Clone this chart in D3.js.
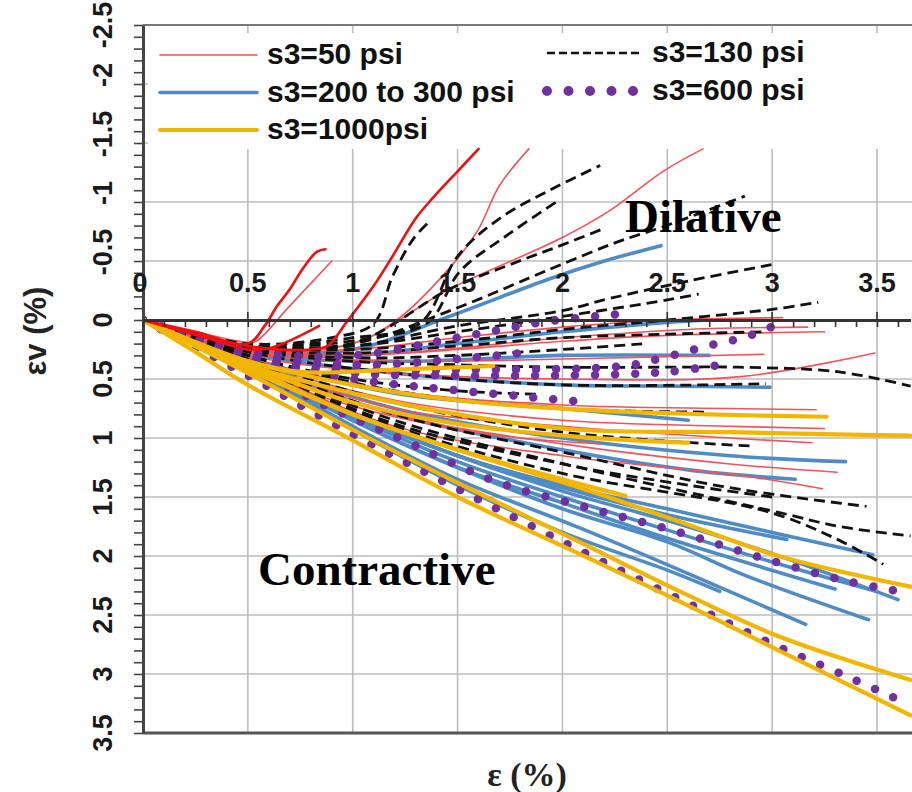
<!DOCTYPE html>
<html>
<head>
<meta charset="utf-8">
<script src="https://d3js.org/d3.v7.min.js"></script>
<style>
  body { margin: 0; background: #fff; }
  svg { display: block; }
</style>
</head>
<body>
<div id="chart"></div>
<script>
// axial strain (%) vs volumetric strain (%), one array of curves per confining stress
var psi50 = [
  [[0,0],[0.25,0.1],[0.5,0.19],[0.54,0.18],[0.7,-0.12],[0.9,-0.5]],
  [[0,0],[0.5,0.24],[1.0,0.2],[1.21,0.0],[1.5,-0.52],[1.6,-0.77],[1.7,-1.14],[1.84,-1.45]],
  [[0,0],[0.5,0.25],[1.0,0.2],[1.46,-0.26],[1.99,-0.69],[2.22,-0.92],[2.48,-1.26],[2.67,-1.45]],
  [[0,0],[0.5,0.25],[1.0,0.25],[1.5,0.15],[2.0,0.06],[2.5,0.0],[3.05,-0.02]],
  [[0,0],[0.5,0.26],[1.2,0.28],[2.0,0.15],[2.6,0.08],[3.17,0.06]],
  [[0,0],[0.5,0.27],[1.0,0.3],[1.5,0.25],[2.0,0.18],[2.5,0.13],[3.25,0.1]],
  [[0,0],[0.5,0.28],[1.2,0.35],[2.0,0.33],[2.96,0.29]],
  [[0,0],[0.5,0.3],[1.2,0.45],[2.0,0.5],[2.85,0.48],[3.49,0.28]],
  [[0,0],[0.5,0.32],[1.2,0.6],[2.0,0.72],[2.8,0.75],[3.21,0.76]],
  [[0,0],[0.5,0.34],[1.2,0.68],[2.0,0.85],[2.8,0.9],[3.25,0.92]],
  [[0,0],[0.5,0.35],[1.2,0.75],[2.0,0.9],[2.8,1.0],[3.19,1.04]],
  [[0,0],[0.5,0.36],[1.2,0.8],[2.0,1.05],[2.8,1.22],[3.31,1.29]],
  [[0,0],[0.5,0.38],[1.2,0.9],[2.0,1.15],[2.5,1.25],[2.9,1.33],[3.24,1.43]],
  [[0,0],[0.25,0.22],[0.5,0.42],[0.8,0.62],[1.2,0.82],[1.7,0.98],[2.18,1.05]]
];

// the three brighter 50 psi tests
var psi50b = [
  [[0,0],[0.25,0.1],[0.5,0.2],[0.58,0.05],[0.64,-0.12],[0.7,-0.26],[0.76,-0.43],[0.83,-0.58],[0.87,-0.6]],
  [[0,0],[0.3,0.15],[0.5,0.25],[0.62,0.23],[0.84,0.05]],
  [[0,0],[0.5,0.22],[0.8,0.25],[0.88,0.22],[0.97,0.02],[1.1,-0.29],[1.19,-0.54],[1.3,-0.86],[1.38,-1.03],[1.5,-1.26],[1.6,-1.45]]
];

var psi130 = [
  [[0,0],[0.5,0.2],[0.9,0.15],[1.1,0.03],[1.19,-0.37],[1.29,-0.69],[1.37,-0.84]],
  [[0,0],[0.5,0.22],[1.0,0.15],[1.32,0.03],[1.5,-0.54],[1.7,-0.86],[1.94,-1.1],[2.18,-1.31]],
  [[0,0],[0.5,0.22],[1.1,0.15],[1.36,0.02],[1.51,-0.41],[1.73,-0.71],[1.97,-1.0]],
  [[0,0],[0.5,0.22],[1.0,0.2],[1.46,-0.26],[1.78,-0.49],[1.99,-0.63],[2.19,-0.77]],
  [[0,0],[0.5,0.22],[1.0,0.2],[1.48,-0.09],[1.94,-0.43],[2.26,-0.66],[2.48,-0.79],[2.87,-1.05]],
  [[0,0],[0.5,0.22],[1.0,0.22],[1.5,0.05],[2.0,-0.08],[2.22,-0.18],[2.6,-0.33],[3.0,-0.47]],
  [[0,0],[0.5,0.22],[1.0,0.22],[1.5,0.1],[2.0,-0.03],[2.5,-0.17],[2.65,-0.22]],
  [[0,0],[0.5,0.22],[1.0,0.25],[1.5,0.18],[2.0,0.08],[2.5,0.0],[3.0,-0.09],[3.22,-0.15]],
  [[0,0],[0.5,0.24],[1.0,0.28],[1.5,0.22],[2.0,0.15],[2.5,0.12],[2.97,0.1]],
  [[0,0],[0.5,0.25],[1.0,0.32],[1.5,0.3],[2.0,0.25],[2.4,0.2]],
  [[0,0],[0.5,0.25],[1.0,0.35],[1.5,0.38],[2.0,0.4],[2.5,0.4],[2.84,0.4],[3.32,0.44],[3.66,0.56]],
  [[0,0],[0.5,0.27],[1.2,0.45],[2.0,0.55],[2.97,0.54]],
  [[0,0],[0.5,0.3],[1.0,0.5],[1.5,0.6],[1.9,0.63]],
  [[0,0],[0.5,0.3],[1.2,0.6],[2.0,0.75],[2.69,0.78]],
  [[0,0],[0.5,0.33],[1.2,0.7],[2.0,0.95],[2.92,1.07]],
  [[0,0],[0.5,0.35],[1.2,0.8],[2.08,1.15],[2.76,1.41],[3.45,1.58]],
  [[0,0],[0.5,0.36],[1.2,0.85],[2.08,1.25],[3.03,1.63],[3.32,1.75],[3.66,1.83]],
  [[0,0],[0.5,0.37],[1.2,0.9],[2.0,1.3],[2.97,1.62],[3.3,1.85],[3.53,2.07]],
  [[0,0],[0.5,0.37],[1.2,0.88],[2.0,1.22],[2.6,1.4],[3.0,1.5]]
];

var psi200to300 = [
  [[0,0],[0.5,0.25],[1.0,0.25],[1.46,-0.03],[1.94,-0.35],[2.2,-0.5],[2.47,-0.63]],
  [[0,0],[0.5,0.27],[1.0,0.3],[1.5,0.2],[2.0,0.1],[2.5,0.02],[2.7,0.0]],
  [[0,0],[0.5,0.28],[1.2,0.35],[2.0,0.3],[2.7,0.3]],
  [[0,0],[0.5,0.28],[1.2,0.45],[2.0,0.55],[2.5,0.56],[2.99,0.57]],
  [[0,0],[0.5,0.32],[1.2,0.62],[2.0,0.75],[2.6,0.85]],
  [[0,0],[0.5,0.35],[1.2,0.75],[2.0,1.0],[2.8,1.15],[3.35,1.2]],
  [[0,0],[0.5,0.36],[1.2,0.8],[2.0,1.1],[2.6,1.27],[3.11,1.35]],
  [[0,0],[0.5,0.37],[1.0,0.8],[1.5,1.15],[2.0,1.4],[2.5,1.6],[3.0,1.8],[3.48,1.99]],
  [[0,0],[0.5,0.37],[1.0,0.8],[1.5,1.15],[2.0,1.42],[2.5,1.65],[3.07,1.86]],
  [[0,0],[0.5,0.38],[1.0,0.8],[1.5,1.15],[2.0,1.45],[2.5,1.7],[3.0,1.98],[3.6,2.37]],
  [[0,0],[0.5,0.38],[1.0,0.82],[1.5,1.2],[2.0,1.5],[2.5,1.78],[3.0,2.05],[3.5,2.3]],
  [[0,0],[0.5,0.4],[1.0,0.85],[1.5,1.25],[2.0,1.55],[2.5,1.85],[3.3,2.28]],
  [[0,0],[0.5,0.38],[1.0,0.85],[1.5,1.25],[2.0,1.6],[2.5,1.88],[2.88,2.17],[3.46,2.54]],
  [[0,0],[0.5,0.4],[1.0,0.9],[1.5,1.35],[2.08,1.76],[2.6,2.15],[3.16,2.58]],
  [[0,0],[0.5,0.42],[1.0,0.93],[1.5,1.4],[2.0,1.8],[2.5,2.12],[2.75,2.3]]
];

var psi600 = [
  [[0,0],[0.5,0.26],[1.0,0.3],[1.5,0.15],[1.9,0.02],[2.27,-0.05]],
  [[0,0],[0.5,0.28],[1.0,0.38],[1.5,0.33],[1.8,0.28]],
  [[0,0],[0.5,0.3],[1.0,0.42],[1.46,0.42],[2.29,0.39],[2.5,0.31],[2.69,0.22],[2.88,0.14],[3.07,0.0]],
  [[0,0],[0.5,0.32],[1.0,0.45],[1.5,0.47],[2.0,0.47],[2.5,0.44],[2.75,0.38]],
  [[0,0],[0.5,0.32],[1.0,0.5],[1.4,0.58],[2.08,0.69]],
  [[0,0],[0.5,0.4],[0.9,0.75],[1.22,1.0],[1.46,1.2],[1.7,1.38],[2.14,1.6],[2.56,1.8],[2.94,2.01],[3.35,2.21],[3.64,2.31]],
  [[0,0],[0.5,0.47],[1.0,0.97],[1.5,1.43],[2.08,1.95],[2.62,2.42],[3.03,2.77],[3.37,3.03],[3.64,3.25]]
];

var psi1000 = [
  [[0,0],[0.25,0.2],[0.5,0.35],[0.75,0.44],[1.2,0.42],[1.67,0.39]],
  [[0,0],[0.5,0.35],[1.0,0.55],[1.5,0.68],[2.08,0.76],[2.7,0.8],[3.26,0.82]],
  [[0,0],[0.5,0.38],[1.0,0.62],[1.5,0.8],[2.08,0.93],[2.8,0.95],[3.3,0.97],[3.66,0.98]],
  [[0,0],[0.5,0.38],[1.0,0.7],[1.5,0.88],[2.08,0.99],[2.6,1.04]],
  [[0,0],[0.5,0.42],[1.0,0.8],[1.5,1.1],[2.0,1.35],[2.3,1.49]],
  [[0,0],[0.5,0.4],[1.0,0.8],[1.5,1.1],[2.08,1.42],[2.56,1.71],[3.03,2.0],[3.66,2.26]],
  [[0,0],[0.5,0.45],[1.0,0.93],[1.5,1.38],[2.08,1.88],[2.56,2.3],[3.03,2.68],[3.66,3.05]],
  [[0,0],[0.25,0.27],[0.5,0.55],[1.0,1.02],[1.5,1.5],[2.14,2.03],[2.6,2.42],[3.03,2.8],[3.66,3.35]]
];

var xTicks = [0, 0.5, 1, 1.5, 2, 2.5, 3, 3.5];
var yTicks = [-2.5, -2, -1.5, -1, -0.5, 0, 0.5, 1, 1.5, 2, 2.5, 3, 3.5];

var legendLeft = [
  {label: "s3=50 psi", key: "p50"},
  {label: "s3=200 to 300 psi", key: "p250"},
  {label: "s3=1000psi", key: "p1000"}
];
var legendRight = [
  {label: "s3=130 psi", key: "p130"},
  {label: "s3=600 psi", key: "p600"}
];

var styles = {
  p250:  {color: "#4f8cc6", width: 3.6, dash: null, cap: "round"},
  p50:   {color: "#f4525a", width: 1.6, dash: null, cap: "round"},
  p130:  {color: "#111", width: 2.8, dash: "11,6", cap: "butt"},
  p600:  {color: "#7030a0", width: 8.5, dash: "0,20", cap: "round"},
  p1000: {color: "#f2b600", width: 4.2, dash: null, cap: "round"},
  p50b:  {color: "#f01010", width: 2.6, dash: null, cap: "round"}
};

var groups = [
  {key: "p250", curves: psi200to300},
  {key: "p50", curves: psi50},
  {key: "p130", curves: psi130},
  {key: "p600", curves: psi600},
  {key: "p1000", curves: psi1000},
  {key: "p50b", curves: psi50b}
];

var width = 912, height = 792;

var x = d3.scaleLinear().domain([0, 3.5]).range([143, 877]);
var y = d3.scaleLinear().domain([-2.5, 3.5]).range([25, 733]);

var svg = d3.select("#chart").append("svg")
  .attr("width", width)
  .attr("height", height);

var sans = "'Liberation Sans', Arial, sans-serif";
var serif = "'Liberation Serif', 'Times New Roman', serif";

// grid
svg.append("g").attr("class", "grid-v")
  .selectAll("line")
  .data(xTicks.filter(function (d) { return d > 0; }))
  .enter().append("line")
  .attr("x1", function (d) { return x(d); })
  .attr("x2", function (d) { return x(d); })
  .attr("y1", y(-2.5))
  .attr("y2", y(3.5))
  .style("stroke", "#bdbdbd")
  .style("stroke-width", 1.6);

svg.append("g").attr("class", "grid-h")
  .selectAll("line")
  .data(yTicks.filter(function (d) { return d > -2.5 && d < 3.5 && d !== 0; }))
  .enter().append("line")
  .attr("x1", x(0))
  .attr("x2", width)
  .attr("y1", function (d) { return y(d); })
  .attr("y2", function (d) { return y(d); })
  .style("stroke", "#bdbdbd")
  .style("stroke-width", 1.6);

// top border
svg.append("line")
  .attr("x1", x(0)).attr("x2", width)
  .attr("y1", y(-2.5)).attr("y2", y(-2.5))
  .style("stroke", "#7a7a7a").style("stroke-width", 2);

// legend background hides the grid behind it
svg.append("rect")
  .attr("x", 148).attr("y", 33)
  .attr("width", width - 148).attr("height", 116)
  .style("fill", "#fff");

// curves
svg.append("clipPath").attr("id", "plotClip")
  .append("rect")
  .attr("x", x(0)).attr("y", y(-2.5))
  .attr("width", width - x(0)).attr("height", y(3.5) - y(-2.5));

var line = d3.line()
  .x(function (d) { return x(d[0]); })
  .y(function (d) { return y(d[1]); })
  .curve(d3.curveCatmullRom.alpha(0.5));

var plot = svg.append("g").attr("clip-path", "url(#plotClip)");

groups.forEach(function (g) {
  var s = styles[g.key];
  plot.append("g").attr("class", "series " + g.key)
    .selectAll("path")
    .data(g.curves)
    .enter().append("path")
    .attr("d", line)
    .style("fill", "none")
    .style("stroke", s.color)
    .style("stroke-width", s.width)
    .style("stroke-dasharray", s.dash)
    .style("stroke-linecap", s.cap)
    .style("stroke-linejoin", "round");
});

// bottom axis border
svg.append("line")
  .attr("x1", x(0)).attr("x2", width)
  .attr("y1", y(3.5)).attr("y2", y(3.5))
  .style("stroke", "#555").style("stroke-width", 3);

// y axis with minor ticks every 0.1
var yMinor = d3.range(-25, 36).map(function (v) { return v / 10; });
var yAxis = svg.append("g")
  .attr("transform", "translate(" + x(0) + ",0)")
  .call(d3.axisLeft(y).tickValues(yMinor).tickSize(9).tickSizeOuter(0).tickFormat(""));
yAxis.select(".domain").style("stroke", "#444").style("stroke-width", 3);
yAxis.selectAll(".tick line").style("stroke", "#444").style("stroke-width", 1.6);

// x axis crossing at εv = 0
var xMinor = d3.range(0, 37).map(function (v) { return v / 10; });
var xScaleWide = x.copy().domain([0, 3.66]).range([x(0), x(3.66)]);
var xAxis = svg.append("g")
  .attr("transform", "translate(0," + y(0) + ")")
  .call(d3.axisBottom(xScaleWide).tickValues(xMinor).tickSize(7).tickSizeOuter(0).tickFormat(""));
xAxis.select(".domain").style("stroke", "#333").style("stroke-width", 3);
xAxis.selectAll(".tick line").style("stroke", "#333").style("stroke-width", 1.6);

svg.append("g").selectAll("line")
  .data(xTicks.filter(function (d) { return d > 0; }))
  .enter().append("line")
  .attr("x1", function (d) { return x(d); })
  .attr("x2", function (d) { return x(d); })
  .attr("y1", y(0) - 8)
  .attr("y2", y(0))
  .style("stroke", "#333").style("stroke-width", 1.6);

// x tick labels sit above the zero line
svg.append("g").selectAll("text")
  .data(xTicks)
  .enter().append("text")
  .attr("x", function (d) { return x(d) - (d === 0 ? 3 : 0); })
  .attr("y", y(0) - 28)
  .attr("text-anchor", "middle")
  .style("font-family", sans)
  .style("font-weight", "bold")
  .style("font-size", "27px")
  .style("fill", "#1a1a1a")
  .text(function (d) { return d; });

// y tick labels, rotated (negative ones sit a little higher, as in the source)
svg.append("g").selectAll("text")
  .data(yTicks)
  .enter().append("text")
  .attr("transform", function (d) {
    var shift = d < 0 && d > -2.5 ? 9 : 0;
    return "translate(112," + (y(d) - shift) + ") rotate(-90)";
  })
  .attr("text-anchor", "middle")
  .style("font-family", sans)
  .style("font-weight", "bold")
  .style("font-size", "27px")
  .style("fill", "#1a1a1a")
  .text(function (d) { return d; });

// axis titles
svg.append("text")
  .attr("transform", "translate(46,331) rotate(-90)")
  .attr("text-anchor", "middle")
  .style("font-family", sans)
  .style("font-weight", "bold")
  .style("font-size", "31px")
  .style("fill", "#222")
  .text("\u03b5v (%)");

svg.append("text")
  .attr("x", 527)
  .attr("y", 786)
  .attr("text-anchor", "middle")
  .style("font-family", serif)
  .style("font-weight", "bold")
  .style("font-size", "34px")
  .style("fill", "#222")
  .text("\u03b5 (%)");

// region annotations
svg.append("text")
  .attr("x", 625).attr("y", 232)
  .style("font-family", serif).style("font-weight", "bold")
  .style("font-size", "47px").style("fill", "#000")
  .text("Dilative");

svg.append("text")
  .attr("x", 258).attr("y", 585)
  .style("font-family", serif).style("font-weight", "bold")
  .style("font-size", "47px").style("fill", "#000")
  .text("Contractive");

// legend
function legendItem(g, item, x0, x1, yy) {
  var s = styles[item.key];
  g.append("line")
    .attr("x1", x0).attr("x2", x1)
    .attr("y1", yy - 9).attr("y2", yy - 9)
    .style("stroke", s.color)
    .style("stroke-width", item.key === "p600" ? 10 : (item.key === "p130" ? 2.6 : s.width))
    .style("stroke-dasharray", item.key === "p600" ? "0,21.5" : (item.key === "p130" ? "8,4" : null))
    .style("stroke-linecap", s.cap);
  g.append("text")
    .attr("x", x1 + 10)
    .attr("y", yy)
    .style("font-family", sans)
    .style("font-weight", "bold")
    .style("font-size", "30px")
    .style("fill", "#111")
    .text(item.label);
}

var legend = svg.append("g").attr("class", "legend");
legendLeft.forEach(function (item, i) {
  legendItem(legend, item, 160, 257, 64 + i * 37.5);
});
legendRight.forEach(function (item, i) {
  legendItem(legend, item, 547, 642, 62 + i * 38);
});
</script>
</body>
</html>
